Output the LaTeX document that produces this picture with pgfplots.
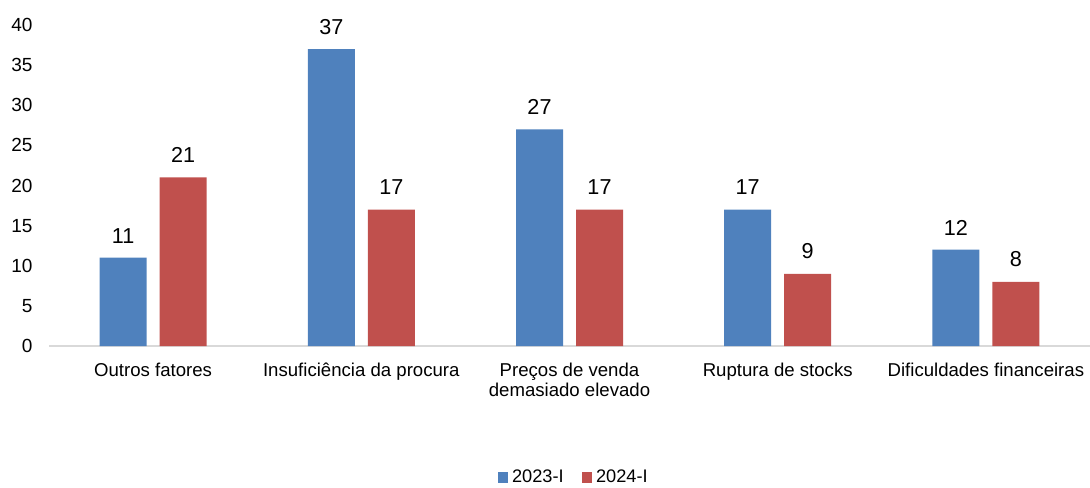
\documentclass[border=0pt]{standalone}
\usepackage{pgfplots}
\pgfplotsset{compat=1.18}
\usepackage{fontspec}
\setmainfont{Liberation Sans}
\definecolor{serA}{HTML}{4F81BD}
\definecolor{serB}{HTML}{C0504D}
\definecolor{baseln}{HTML}{D9D9D9}
\begin{document}
\fontsize{9.3}{10.2}\selectfont
\begin{tikzpicture}
\useasboundingbox (-24.5pt,-70.5pt) rectangle (520.5pt,173pt);
\begin{axis}[
  at={(0,0)}, anchor=south west,
  scale only axis,
  width=520.5pt, height=160.5pt,
  ybar=6.5pt, bar width=23.5pt,
  xmin=-0.5, xmax=4.5,
  ymin=0, ymax=40,
  ytick={0,5,...,40},
  xtick={0,1,2,3,4},
  xticklabels={Outros fatores, Insuficiência da procura, {Preços de venda\\demasiado elevado}, Ruptura de stocks, Dificuldades financeiras},
  xticklabel style={align=center, font=\fontsize{9.3}{10.2}\selectfont, yshift=-5pt},
  yticklabel style={font=\fontsize{9.5}{11}\selectfont, xshift=-5pt},
  /pgf/number format/assume math mode=true,
  major tick length=0pt,
  axis x line=bottom, axis y line=left,
  axis line style={-},
  x axis line style={draw=baseln, line width=1pt},
  y axis line style={draw=none},
  nodes near coords,
  every node near coord/.append style={font=\fontsize{10.8}{12}\selectfont, text=black, yshift=4pt},
  legend style={at={(0.505,-0.41)}, anchor=center, draw=none, legend columns=2,
    font=\fontsize{9.1}{10.5}\selectfont, /tikz/every even column/.append style={column sep=7pt}},
  legend image code/.code={\fill[#1] (0pt,-2.6pt) rectangle (5.2pt,2.6pt);},
]
\addplot[fill=serA, draw=none] coordinates {(0,11) (1,37) (2,27) (3,17) (4,12)};
\addplot[fill=serB, draw=none] coordinates {(0,21) (1,17) (2,17) (3,9) (4,8)};
\legend{2023-I, 2024-I}
\end{axis}
\end{tikzpicture}
\end{document}
